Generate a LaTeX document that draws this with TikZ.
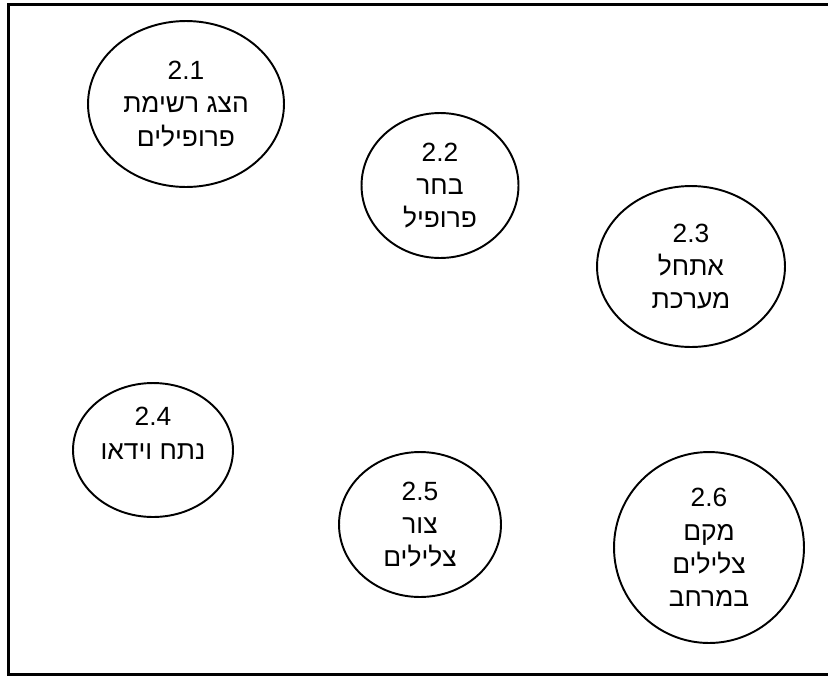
\documentclass[tikz,border=0pt]{standalone}
\usepackage{fontspec}
\setmainfont{Liberation Sans}
\newfontfamily\hebfont[Script=Hebrew]{Liberation Sans}
\TeXXeTstate=1
\usetikzlibrary{shapes.geometric}
\newcommand{\heb}[1]{{\hebfont\beginR #1\endR}}
\tikzset{proc/.style = {ellipse,draw,line width=1.1pt,inner sep=0pt,align=center,
                        font=\fontsize{15}{19}\selectfont}}
\tikzset{frame/.style = {line width=1.6pt}}

\begin{document}
\begin{tikzpicture}[x=0.02cm,y=-0.02cm]
    \useasboundingbox (0,0) rectangle (828,677);

    \draw [frame] (828,4.5) -- (8.5,4.5) -- (8.5,674.5) -- (828,674.5);

    \node [proc,minimum width=3.92cm,minimum height=3.32cm] (P1) at (186,104)
        {2.1\\ \heb{הצג רשימת}\\ \heb{פרופילים}};
    \node [proc,minimum width=3.14cm,minimum height=2.90cm] (P2) at (440,185.5)
        {2.2\\ \heb{בחר}\\ \heb{פרופיל}};
    \node [proc,minimum width=3.76cm,minimum height=3.22cm] (P3) at (691,266.5)
        {2.3\\ \heb{אתחל}\\ \heb{מערכת}};
    \node [proc,minimum width=3.20cm,minimum height=2.68cm] (P4) at (153,450)
        {2.4\\ \heb{נתח וידאו}\\ \mbox{}};
    \node [proc,minimum width=3.24cm,minimum height=2.90cm] (P5) at (420,524.5)
        {2.5\\ \heb{צור}\\ \heb{צלילים}};
    \node [proc,minimum width=3.80cm,minimum height=3.82cm] (P6) at (709,547.5)
        {2.6\\ \heb{מקם}\\ \heb{צלילים}\\ \heb{במרחב}};
\end{tikzpicture}
\end{document}
